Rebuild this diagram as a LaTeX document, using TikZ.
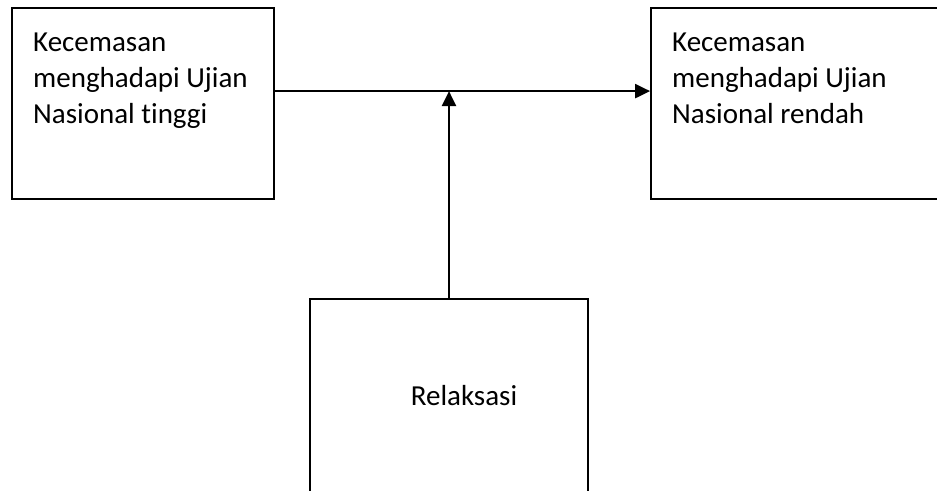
\documentclass[tikz,border=0pt]{standalone}
\usepackage{fontspec}
\setmainfont[Ligatures=NoCommon]{Carlito}
\usetikzlibrary{arrows.meta}

\begin{document}
\begin{tikzpicture}[x=1pt,y=1pt,
  box/.style={draw,line width=1.8pt,inner sep=0pt},
  txt/.style={inner sep=0pt,align=left,font=\fontsize{29}{36}\selectfont},
  arr/.style={line width=2.4pt,-{Triangle[length=15pt,width=14pt]}}]
\clip (0,0) rectangle (937,490);

\node[box,minimum width=262,minimum height=191] (tinggi) at (143,386.5) {};
\node[box,minimum width=300,minimum height=191] (rendah) at (801,386.5) {};
\node[box,minimum width=278,minimum height=211] (relaksasi) at (449,85.5) {};

\node[txt,anchor=north west] (tinggitxt) at (33,457) {Kecemasan\\menghadapi Ujian\\Nasional tinggi};
\node[txt,anchor=north west] (rendahtxt) at (672,457) {Kecemasan\\menghadapi Ujian\\Nasional rendah};
\node[txt] (relaksasitxt) at (464,94) {Relaksasi};

\coordinate (awal) at ([yshift=-84pt]tinggi.north east);
\coordinate (temu) at (awal -| relaksasi.north);
\draw[arr] (awal) -- (awal -| rendah.west);
\draw[arr] (relaksasi.north) -- (temu);
\end{tikzpicture}
\end{document}
